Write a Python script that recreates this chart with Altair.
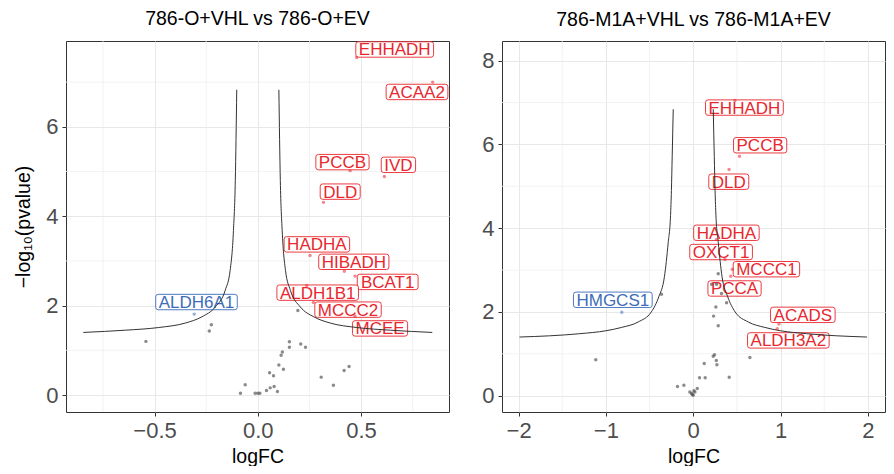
import altair as alt
import pandas as pd

# ---------------- data: left panel (786-O) ----------------
L_GENES = ["EHHADH", "ACAA2", "PCCB", "IVD", "DLD", "HADHA", "HIBADH", "BCAT1",
           "ALDH1B1", "MCCC2", "MCEE", "ALDH6A1"]
L_FC = [0.479, 0.847, 0.447, 0.613, 0.318, 0.253, 0.419, 0.471, 0.237, 0.269, 0.471, -0.308]
L_P = [7.55, 7.00, 5.02, 4.89, 4.31, 3.12, 2.77, 2.66, 2.45, 2.07, 1.76, 1.81]
L_DIR = ["up"] * 11 + ["down"]
L_LAB_X = [0.663, 0.771, 0.410, 0.681, 0.399, 0.286, 0.465, 0.629, 0.290, 0.437, 0.592, -0.297]
L_LAB_Y = [7.73, 6.78, 5.21, 5.15, 4.55, 3.37, 2.98, 2.53, 2.29, 1.91, 1.49, 2.08]

L_NS_FC = [-0.542, -0.235, -0.225, 0.194, 0.153, 0.153, 0.208, 0.231, 0.119, 0.113, 0.102,
           0.124, 0.057, 0.076, 0.307, 0.418, 0.442, 0.366, -0.061, -0.084, -0.013, 0.0,
           0.010, 0.042, 0.060, 0.079, 0.095]
L_NS_P = [1.20, 1.43, 1.57, 1.89, 1.19, 1.07, 1.14, 1.07, 0.96, 0.89, 0.67, 0.575, 0.50,
          0.43, 0.40, 0.55, 0.64, 0.22, 0.23, 0.04, 0.04, 0.04, 0.04, 0.10, 0.16, 0.19, 0.08]

L_CURVE_ABS_FC = [0.102, 0.109, 0.118, 0.134, 0.158, 0.206, 0.271, 0.351, 0.480, 0.642, 0.845]
L_CURVE_P = [6.83, 4.80, 3.68, 2.79, 2.34, 1.97, 1.75, 1.61, 1.51, 1.45, 1.40]

# ---------------- data: right panel (786-M1A) ----------------
R_GENES = ["EHHADH", "PCCB", "DLD", "HADHA", "OXCT1", "MCCC1", "PCCA", "ACADS",
           "ALDH3A2", "HMGCS1"]
R_FC = [0.477, 0.530, 0.410, 0.267, 0.362, 0.447, 0.430, 0.981, 0.962, -0.818]
R_P = [7.05, 5.72, 5.40, 3.73, 3.25, 3.02, 2.85, 1.71, 1.60, 1.99]
R_DIR = ["up"] * 9 + ["down"]
R_LAB_X = [0.586, 0.766, 0.407, 0.380, 0.319, 0.838, 0.473, 1.255, 1.089, -0.921]
R_LAB_Y = [6.88, 5.98, 5.11, 3.89, 3.43, 3.02, 2.56, 1.93, 1.32, 2.29]

R_NS_FC = [-1.116, -0.363, 0.286, 0.210, 0.267, 0.324, 0.382, 0.259, 0.233, 0.286, 0.649,
           0.229, 0.244, 0.264, 0.271, 0.126, 0.072, 0.137, 0.412, -0.180, -0.107, -0.039,
           -0.019, 0.0, 0.019, 0.046, -0.010, 0.008]
R_NS_P = [0.86, 2.42, 2.91, 2.66, 2.66, 2.44, 2.22, 2.12, 1.90, 1.67, 0.91, 0.94, 0.98,
          0.84, 0.74, 0.77, 0.43, 0.43, 0.44, 0.22, 0.25, 0.09, 0.05, 0.01, 0.09, 0.17,
          0.03, 0.12]

R_CURVE_ABS_FC = [0.229, 0.241, 0.250, 0.260, 0.287, 0.330, 0.395, 0.480, 0.630, 0.820,
                  1.000, 1.300, 1.990]
R_CURVE_P = [6.84, 5.71, 4.90, 4.30, 3.65, 2.84, 2.36, 2.00, 1.76, 1.63, 1.55, 1.48, 1.40]

TITLES = ["786-O+VHL vs 786-O+EV", "786-M1A+VHL vs 786-M1A+EV"]

# ---------------- styling ----------------
FONT = "Liberation Sans"
RED = "#E8272E"
BLUE = "#3D6CB9"
LABEL_FS = 17
U = 10  # px per path unit for size=400 symbols
CW = {"A": 667, "B": 667, "C": 722, "D": 722, "E": 667, "F": 611, "G": 778, "H": 722,
      "I": 278, "L": 556, "M": 833, "O": 778, "P": 667, "S": 667, "T": 611, "V": 667,
      "X": 667, "0": 556, "1": 556, "2": 556, "3": 556, "6": 556}


def box_path(text):
    tw = sum(CW.get(c, 600) for c in text) * LABEL_FS / 1000.0
    hw = (tw + 6) / 2.0 / U
    hh = 7.7 / U
    r = 2.5 / U
    f = lambda v: f"{v:.3f}"
    return (f"M{f(-hw + r)},{f(-hh)}L{f(hw - r)},{f(-hh)}Q{f(hw)},{f(-hh)} {f(hw)},{f(-hh + r)}"
            f"L{f(hw)},{f(hh - r)}Q{f(hw)},{f(hh)} {f(hw - r)},{f(hh)}"
            f"L{f(-hw + r)},{f(hh)}Q{f(-hw)},{f(hh)} {f(-hw)},{f(hh - r)}"
            f"L{f(-hw)},{f(-hh + r)}Q{f(-hw)},{f(-hh)} {f(-hw + r)},{f(-hh)}Z")


def panel(genes, fc, p, dirs, lab_x, lab_y, ns_fc, ns_p, c_fc, c_p, title,
          xdom, ydom, xmaj, xmin, ymaj, ymin, xfmt, show_ytitle):
    col = [RED if d == "up" else BLUE for d in dirs]
    sig = pd.DataFrame({"fc": fc, "p": p, "col": col})
    labs = pd.DataFrame({"lx": lab_x, "ly": lab_y, "gene": genes, "col": col,
                         "path": [box_path(g) for g in genes]})
    ns = pd.DataFrame({"fc": ns_fc, "p": ns_p})
    curve = pd.DataFrame({
        "fc": [-v for v in c_fc] + list(c_fc),
        "p": list(c_p) + list(c_p),
        "side": ["l"] * len(c_fc) + ["r"] * len(c_fc),
    })
    xs = alt.Scale(domain=xdom, nice=False, zero=False)
    ys = alt.Scale(domain=ydom, nice=False, zero=False)
    xaxis = alt.Axis(values=xmaj, title="logFC",
                     labelExpr=f"replace(format(datum.value, '{xfmt}'), '-', '\u2212')")
    yaxis = alt.Axis(values=ymaj, title="\u2212log\u2081\u2080(pvalue)" if show_ytitle else None,
                     labelExpr="replace(format(datum.value, 'd'), '-', '\u2212')")

    minor_x = alt.Chart(pd.DataFrame({"v": xmin})).mark_rule(
        color="#EFEFEF", strokeWidth=0.8).encode(x=alt.X("v:Q", scale=xs, axis=xaxis))
    minor_y = alt.Chart(pd.DataFrame({"v": ymin})).mark_rule(
        color="#EFEFEF", strokeWidth=0.8).encode(y=alt.Y("v:Q", scale=ys, axis=yaxis))
    boxes = alt.Chart(labs).mark_point(
        filled=True, fill="white", fillOpacity=0.85, size=400, strokeWidth=1,
        strokeOpacity=0.9, opacity=1).encode(
        x=alt.X("lx:Q", scale=xs, axis=xaxis),
        y=alt.Y("ly:Q", scale=ys, axis=yaxis),
        shape=alt.Shape("path:N", scale=None),
        stroke=alt.Stroke("col:N", scale=None),
    )
    texts = alt.Chart(labs).mark_text(
        font=FONT, fontSize=LABEL_FS, baseline="middle", align="center", dy=1).encode(
        x=alt.X("lx:Q", scale=xs, axis=xaxis),
        y=alt.Y("ly:Q", scale=ys, axis=yaxis),
        text="gene:N",
        color=alt.Color("col:N", scale=None),
    )
    line = alt.Chart(curve).mark_line(color="#333333", strokeWidth=1,
                                      interpolate="monotone").encode(
        x=alt.X("fc:Q", scale=xs, axis=xaxis),
        y=alt.Y("p:Q", scale=ys, axis=yaxis),
        detail="side:N",
    )
    ns_pts = alt.Chart(ns).mark_circle(size=12, color="#4D4D4D", opacity=0.65).encode(
        x=alt.X("fc:Q", scale=xs, axis=xaxis),
        y=alt.Y("p:Q", scale=ys, axis=yaxis),
    )
    sig_pts = alt.Chart(sig).mark_circle(size=12, opacity=0.55).encode(
        x=alt.X("fc:Q", scale=xs, axis=xaxis),
        y=alt.Y("p:Q", scale=ys, axis=yaxis),
        color=alt.Color("col:N", scale=None),
    )
    return alt.layer(minor_x, minor_y, boxes, texts, line, ns_pts, sig_pts).properties(
        width=383, height=371,
        title=alt.TitleParams(title, fontSize=19.5, font=FONT, fontWeight="normal",
                              color="black", anchor="middle", frame="group", offset=10),
    )


left = panel(L_GENES, L_FC, L_P, L_DIR, L_LAB_X, L_LAB_Y, L_NS_FC, L_NS_P,
             L_CURVE_ABS_FC, L_CURVE_P, TITLES[0],
             [-0.929, 0.926], [-0.38, 7.92], [-0.5, 0.0, 0.5], [-0.75, -0.25, 0.25, 0.75],
             [0, 2, 4, 6], [1, 3, 5, 7], ".1f", True)
right = panel(R_GENES, R_FC, R_P, R_DIR, R_LAB_X, R_LAB_Y, R_NS_FC, R_NS_P,
              R_CURVE_ABS_FC, R_CURVE_P, TITLES[1],
              [-2.19, 2.196], [-0.39, 8.47], [-2, -1, 0, 1, 2], [-1.5, -0.5, 0.5, 1.5],
              [0, 2, 4, 6, 8], [1, 3, 5, 7], "d", False)

chart = alt.hconcat(left, right, spacing=30).properties(
    padding={"left": 5, "top": 0, "right": 0, "bottom": 0},
).configure_view(
    stroke="#333333", strokeWidth=1,
).configure_axis(
    grid=True, gridColor="#E8E8E8", gridWidth=1, domain=False,
    ticks=True, tickColor="#333333", tickSize=4,
    labelFont=FONT, labelFontSize=22, labelColor="#4D4D4D", labelPadding=4,
    titleFont=FONT, titleFontSize=19.5, titleFontWeight="normal", titleColor="black",
).configure_axisX(titlePadding=6).configure_axisY(titlePadding=12)

chart.save("out.html", embed_options={"renderer": "svg", "actions": False})
